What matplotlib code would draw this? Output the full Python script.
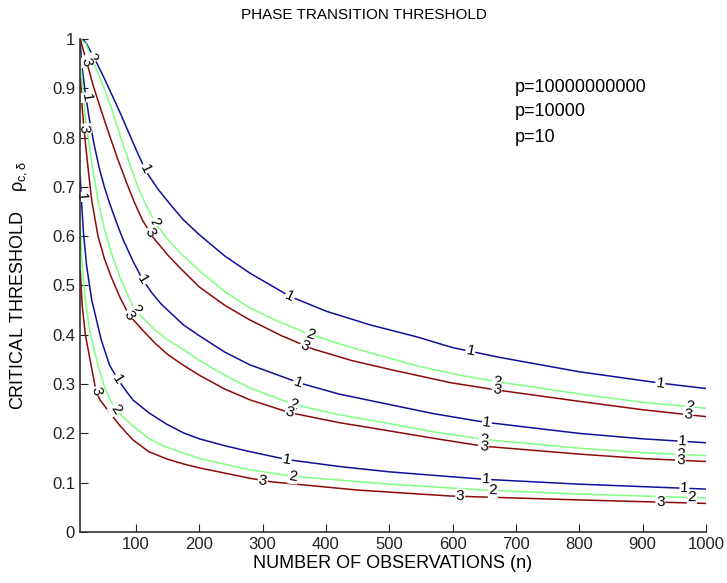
import numpy as np
import matplotlib.pyplot as plt

plt.rcParams['font.family'] = ['Liberation Sans', 'DejaVu Sans']

# three groups of curves (A top, B middle, C bottom); level 1/2/3 = p value
a1_n = [12, 16, 22, 37, 50, 74, 100, 116, 135, 155, 175, 200, 240, 280, 343, 400, 470, 543, 600, 675, 800, 928, 1000]
a1_y = [1.0, 1.0, 0.99, 0.954, 0.92, 0.853, 0.776, 0.731, 0.695, 0.663, 0.633, 0.603, 0.560, 0.525, 0.478, 0.448, 0.420, 0.396, 0.374, 0.354, 0.325, 0.302, 0.291]
a2_n = [12, 21, 37, 50, 63, 76, 89, 100, 113, 130, 150, 170, 200, 240, 280, 320, 370, 430, 491, 550, 612, 670, 800, 900, 1000]
a2_y = [1.0, 0.99, 0.94, 0.90, 0.853, 0.80, 0.751, 0.71, 0.67, 0.628, 0.594, 0.566, 0.53, 0.488, 0.454, 0.43, 0.403, 0.378, 0.356, 0.335, 0.318, 0.305, 0.28, 0.263, 0.251]
a3_n = [12, 16, 24, 32, 45, 58, 71, 84, 97, 110, 126, 150, 170, 200, 240, 280, 330, 380, 440, 500, 596, 670, 800, 900, 1000]
a3_y = [1.0, 0.981, 0.945, 0.907, 0.855, 0.805, 0.757, 0.712, 0.67, 0.633, 0.599, 0.562, 0.535, 0.497, 0.46, 0.430, 0.398, 0.371, 0.348, 0.33, 0.303, 0.288, 0.265, 0.248, 0.234]

b1_n = [12, 15, 20, 26, 34, 42, 50, 58, 70, 80, 95, 110, 125, 140, 175, 200, 240, 280, 359, 420, 491, 570, 649, 800, 900, 1000]
b1_y = [0.99, 0.94, 0.89, 0.84, 0.785, 0.738, 0.70, 0.668, 0.625, 0.592, 0.55, 0.513, 0.485, 0.462, 0.42, 0.398, 0.365, 0.339, 0.302, 0.28, 0.261, 0.24, 0.223, 0.20, 0.189, 0.181]
b2_n = [12, 15, 20, 30, 40, 50, 60, 75, 95, 110, 130, 150, 175, 200, 240, 280, 348, 420, 491, 570, 649, 800, 900, 1000]
b2_y = [0.97, 0.91, 0.84, 0.75, 0.673, 0.615, 0.57, 0.515, 0.458, 0.435, 0.41, 0.39, 0.37, 0.348, 0.318, 0.292, 0.259, 0.238, 0.222, 0.203, 0.188, 0.17, 0.161, 0.155]
b3_n = [12, 15, 20, 25, 30, 40, 50, 60, 75, 89, 110, 130, 150, 175, 200, 240, 280, 343, 420, 491, 570, 649, 800, 900, 1000]
b3_y = [0.92, 0.86, 0.79, 0.73, 0.673, 0.6, 0.555, 0.52, 0.475, 0.44, 0.41, 0.383, 0.36, 0.338, 0.318, 0.290, 0.268, 0.242, 0.222, 0.207, 0.19, 0.174, 0.158, 0.149, 0.143]

c1_n = [12, 13, 17, 22, 30, 45, 58, 71, 85, 95, 120, 148, 175, 200, 240, 280, 338, 420, 500, 649, 800, 1000]
c1_y = [0.72, 0.69, 0.607, 0.54, 0.471, 0.39, 0.339, 0.31, 0.285, 0.268, 0.242, 0.219, 0.201, 0.189, 0.175, 0.163, 0.147, 0.133, 0.122, 0.107, 0.097, 0.087]
c2_n = [12, 15, 20, 28, 40, 50, 59, 70, 95, 120, 142, 200, 280, 348, 500, 649, 800, 1000]
c2_y = [0.62, 0.54, 0.47, 0.40, 0.339, 0.295, 0.268, 0.245, 0.215, 0.19, 0.175, 0.149, 0.126, 0.113, 0.097, 0.085, 0.077, 0.069]
c3_n = [12, 15, 20, 29, 37, 43, 59, 75, 95, 120, 149, 175, 200, 280, 312, 450, 596, 800, 1000]
c3_y = [0.53, 0.46, 0.40, 0.339, 0.285, 0.268, 0.241, 0.215, 0.187, 0.163, 0.148, 0.138, 0.130, 0.109, 0.102, 0.085, 0.073, 0.065, 0.058]

# where the inline contour labels sit (n positions)
a1_lab = [114, 343, 628, 928]
a2_lab = [30, 130, 375, 670, 975]
a3_lab = [22, 122, 367, 670, 972]
b1_lab = [21, 111, 356, 654, 963]
b2_lab = [100, 348, 649, 960]
b3_lab = [18, 89, 343, 649, 960]
c1_lab = [13.5, 71, 338, 653, 966]
c2_lab = [68, 348, 664, 978]
c3_lab = [37, 300, 612, 928]

legend_text = ["p=10000000000", "p=10000", "p=10"]
colors = {1: "#10109a", 2: "#80ff80", 3: "#8c0a0a"}

curves = [
    (a1_n, a1_y, 1, a1_lab), (a2_n, a2_y, 2, a2_lab), (a3_n, a3_y, 3, a3_lab),
    (b1_n, b1_y, 1, b1_lab), (b2_n, b2_y, 2, b2_lab), (b3_n, b3_y, 3, b3_lab),
    (c1_n, c1_y, 1, c1_lab), (c2_n, c2_y, 2, c2_lab), (c3_n, c3_y, 3, c3_lab),
]

fig = plt.figure(figsize=(7.27, 5.83), dpi=100)
ax = fig.add_axes([0.110, 0.0875, 0.861, 0.8456])
ax.set_xlim(11.5, 1000)
ax.set_ylim(0, 1)

for n, y, lev, labs in curves:
    ax.plot(n, y, color=colors[lev], lw=1.1)

# inline labels, rotated along the curve
for n, y, lev, labs in curves:
    for xl in labs:
        yl = np.interp(xl, n, y)
        p0 = ax.transData.transform((xl - 4, np.interp(xl - 4, n, y)))
        p1 = ax.transData.transform((xl + 4, np.interp(xl + 4, n, y)))
        ang = np.degrees(np.arctan2(p1[1] - p0[1], p1[0] - p0[0]))
        ax.text(xl, yl, str(lev), fontsize=11, ha="center", va="center",
                rotation=ang, rotation_mode="anchor", zorder=2.2,
                bbox=dict(boxstyle="square,pad=0.05", fc="white", ec="none"))

ax.set_xticks(np.arange(100, 1001, 100))
ax.set_yticks(np.arange(0, 1.01, 0.1))
ax.set_yticklabels(["0", "0.1", "0.2", "0.3", "0.4", "0.5", "0.6", "0.7", "0.8", "0.9", "1"])
ax.tick_params(direction="in", length=6, labelsize=12, colors="#222222")
ax.spines["top"].set_visible(False)
ax.spines["right"].set_visible(False)
for s in ["left", "bottom"]:
    ax.spines[s].set_color("#333333")
    ax.spines[s].set_linewidth(1.2)

ax.set_xlabel("NUMBER OF OBSERVATIONS (n)", fontsize=13, labelpad=2)
ax.set_ylabel(r"CRITICAL THRESHOLD    $\mathregular{\rho_{c,\delta}}$", fontsize=13)
ax.yaxis.set_label_coords(-0.082, 0.5)
fig.text(364 / 727, 1 - 15 / 583, "PHASE TRANSITION THRESHOLD", fontsize=11,
         ha="center", va="center")

for i, t in enumerate(legend_text):
    fig.text(515 / 727, 1 - (87 + 25 * i) / 583, t, fontsize=13, ha="left", va="center")

fig.savefig("out.png", dpi=100)
